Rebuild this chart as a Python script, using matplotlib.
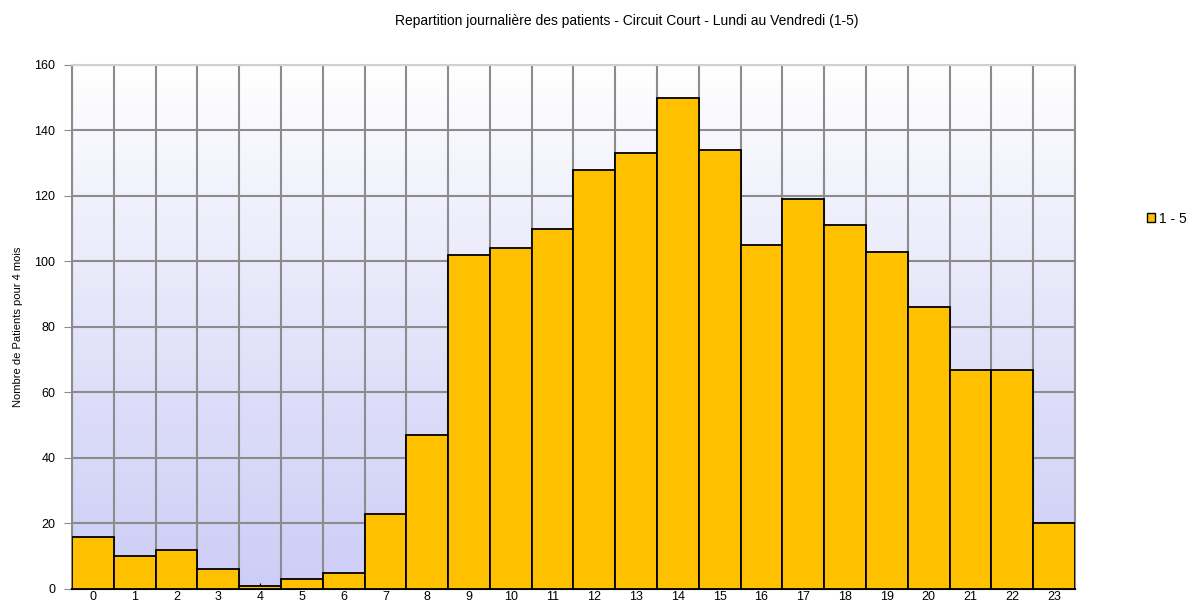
import numpy as np
import matplotlib

matplotlib.use("Agg")
import matplotlib.pyplot as plt
from matplotlib.colors import LinearSegmentedColormap
from matplotlib.patches import Patch

plt.rcParams["font.family"] = ["Liberation Sans", "DejaVu Sans"]

hours = list(range(24))
patients = [16, 10, 12, 6, 1, 3, 5, 23, 47, 102, 104, 110, 128, 133, 150, 134,
            105, 119, 111, 103, 86, 67, 67, 20]
series_label = "1 - 5"
title = "Repartition journalière des patients - Circuit Court - Lundi au Vendredi (1-5)"
ylabel = "Nombre de Patients pour 4 mois"

BAR_C = "#FFC000"
GRID_C = "#8c8c8c"

fig = plt.figure(figsize=(11.92, 6.07), dpi=100)
ax = fig.add_axes([0.0604, 0.0297, 0.8414, 0.8633])

# background gradient, white at top to lavender at bottom
grad = LinearSegmentedColormap.from_list("bg", ["#cdcdf7", "#e4e4fa", "#ffffff"])
ax.imshow(np.linspace(0, 1, 256).reshape(-1, 1), cmap=grad, aspect="auto",
          extent=[-0.5, 23.5, 0, 160], origin="lower", zorder=0)

ax.bar(hours, patients, width=1.0, color=BAR_C, edgecolor="black", linewidth=1.3, zorder=3)

ax.set_xlim(-0.5, 23.5)
ax.set_ylim(0, 160)
ax.set_yticks(range(0, 161, 20))
ax.set_xticks(hours)
ax.set_xticks(np.arange(-0.5, 24, 1), minor=True)
ax.grid(True, which="minor", axis="x", color=GRID_C, lw=1.5, zorder=1)
ax.grid(True, which="major", axis="y", color=GRID_C, lw=1.5, zorder=1)
ax.tick_params(axis="x", which="major", direction="in", length=4, labelsize=9, pad=1.5)
ax.tick_params(axis="x", which="minor", length=0)
ax.tick_params(axis="y", direction="out", length=6, color=GRID_C, labelsize=9, pad=6)

for s in ["left", "right"]:
    ax.spines[s].set_color(GRID_C)
    ax.spines[s].set_linewidth(1.5)
ax.spines["top"].set_color("#d0d0d0")
ax.spines["top"].set_linewidth(1.5)
ax.spines["bottom"].set_color("black")
ax.spines["bottom"].set_linewidth(1.5)

ax.set_ylabel(ylabel, fontsize=8, labelpad=8)
fig.text(0.526, 0.965, title, ha="center", va="center", fontsize=10)

fig.legend(handles=[Patch(facecolor=BAR_C, edgecolor="black", label=series_label)],
           loc="center left", bbox_to_anchor=(0.962, 0.64), frameon=False,
           fontsize=10, handlelength=0.6, handleheight=0.6, handletextpad=0.3,
           borderaxespad=0, borderpad=0)

fig.savefig("out.png", dpi=100)
